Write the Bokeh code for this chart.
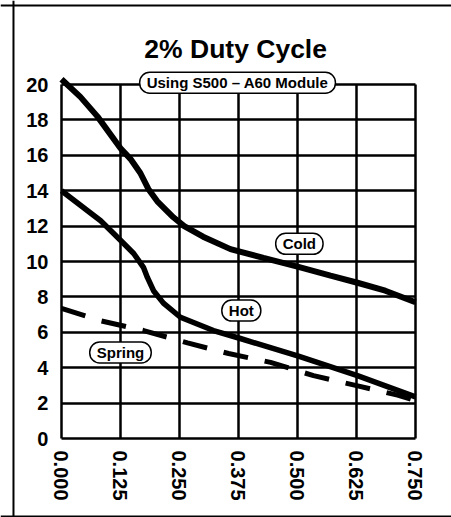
import math
from bokeh.plotting import figure
from bokeh.models import Label, FixedTicker, Span, Range1d
from bokeh.embed import file_html
from bokeh.resources import INLINE

# ---- data ----
x_ticks = [0.0, 0.125, 0.25, 0.375, 0.5, 0.625, 0.75]
x_tick_labels = ["0.000", "0.125", "0.250", "0.375", "0.500", "0.625", "0.750"]
y_ticks = [0, 2, 4, 6, 8, 10, 12, 14, 16, 18, 20]
y_tick_labels = ["0", "2", "4", "6", "8", "10", "12", "14", "16", "18", "20"]

cold_x = [0.0, 0.04, 0.076, 0.125, 0.146, 0.167, 0.184, 0.203, 0.237, 0.26, 0.30,
          0.358, 0.428, 0.502, 0.570, 0.627, 0.686, 0.75]
cold_y = [20.3, 19.3, 18.2, 16.4, 15.8, 15.0, 14.1, 13.4, 12.5, 12.0, 11.4,
          10.7, 10.2, 9.7, 9.2, 8.8, 8.35, 7.7]

hot_x = [0.0, 0.083, 0.125, 0.153, 0.174, 0.182, 0.195, 0.216, 0.252, 0.322,
         0.379, 0.502, 0.627, 0.75]
hot_y = [14.0, 12.3, 11.2, 10.45, 9.65, 9.1, 8.35, 7.65, 6.85, 6.1,
         5.65, 4.65, 3.55, 2.35]

spring_x = [0.0, 0.083, 0.174, 0.267, 0.354, 0.443, 0.534, 0.623, 0.712, 0.75]
spring_y = [7.35, 6.65, 6.1, 5.4, 4.8, 4.3, 3.55, 3.0, 2.45, 2.15]

title_text = "2% Duty Cycle"
subtitle_text = "Using S500 \u2013 A60 Module"
series_labels = ["Cold", "Hot", "Spring"]

FONT = "Liberation Sans"

p = figure(width=451, height=517, output_backend="svg", toolbar_location=None,
           x_range=Range1d(-0.1292, 0.8263), y_range=Range1d(-4.463, 24.746),
           min_border_left=0, min_border_right=0, min_border_top=0,
           min_border_bottom=0, background_fill_color="white",
           border_fill_color="white")

p.outline_line_color = None

for ax in (p.xaxis[0], p.yaxis[0]):
    ax.fixed_location = 0
    ax.axis_line_color = None
    ax.major_tick_line_color = None
    ax.minor_tick_line_color = None
    ax.major_tick_out = 0
    ax.major_tick_in = 0
    ax.minor_tick_out = 0
    ax.minor_tick_in = 0
    ax.major_label_text_font = FONT
    ax.major_label_text_font_style = "bold"
    ax.major_label_text_color = "black"

p.xaxis.ticker = FixedTicker(ticks=x_ticks)
p.xaxis.major_label_overrides = {t: l for t, l in zip(x_ticks, x_tick_labels)}
p.xaxis.major_label_orientation = -math.pi / 2
p.xaxis.major_label_text_font_size = "20px"
p.xaxis.major_label_standoff = 12

p.yaxis.ticker = FixedTicker(ticks=y_ticks)
p.yaxis.major_label_overrides = {t: l for t, l in zip(y_ticks, y_tick_labels)}
p.yaxis.major_label_text_font_size = "20px"
p.yaxis.major_label_standoff = 13

p.xgrid.grid_line_color = "black"
p.xgrid.grid_line_width = 2.5
p.xgrid.grid_line_alpha = 1
p.xgrid.cross_bounds = (0, 20)
p.ygrid.grid_line_color = "black"
p.ygrid.grid_line_width = 2.5
p.ygrid.grid_line_alpha = 1
p.ygrid.cross_bounds = (0, 0.75)

p.line(cold_x, cold_y, line_color="black", line_width=6)
p.line(hot_x, hot_y, line_color="black", line_width=5.5)
p.line(spring_x, spring_y, line_color="black", line_width=5, line_dash="25 17")

# outer page frame (left, top and bottom rules; right side is off the picture)
p.add_layout(Span(location=-0.1017, dimension="height", line_color="black", line_width=2))
p.add_layout(Span(location=24.46, dimension="width", line_color="black", line_width=2))
p.add_layout(Span(location=-4.41, dimension="width", line_color="black", line_width=2))

p.add_layout(Label(x=0.369, y=21.98, text=title_text, text_font=FONT,
                   text_font_style="bold", text_font_size="26.5px",
                   text_align="center", text_baseline="middle",
                   text_color="black"))

def pill(x, y, txt):
    return Label(x=x, y=y, text=txt, text_font=FONT, text_font_style="bold",
                 text_font_size="15px", text_align="center",
                 text_baseline="middle", text_color="black",
                 background_fill_color="white", background_fill_alpha=1,
                 border_line_color="black", border_line_width=1.5,
                 border_radius=10, padding=(7, 2))

p.add_layout(pill(0.373, 20.1, subtitle_text))
p.add_layout(pill(0.504, 11.0, series_labels[0]))
p.add_layout(pill(0.381, 7.23, series_labels[1]))
p.add_layout(pill(0.125, 4.86, series_labels[2]))

open("out.html", "w").write(file_html(p, INLINE))
